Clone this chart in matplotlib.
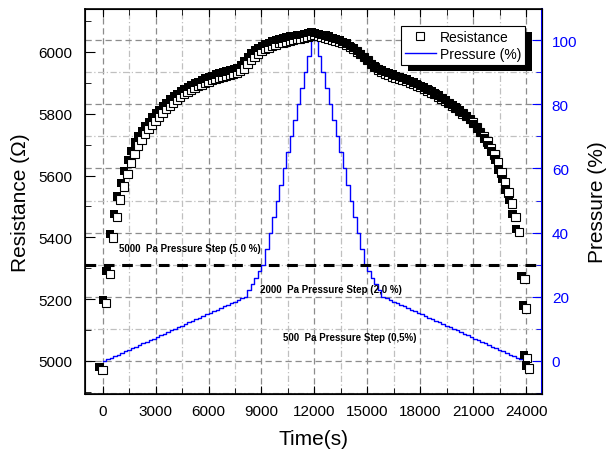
import numpy as np
import matplotlib
matplotlib.use("Agg")
import matplotlib.pyplot as plt
from matplotlib import patheffects
from matplotlib.lines import Line2D
from matplotlib.ticker import MultipleLocator

plt.rcParams['font.family'] = ['Liberation Sans', 'DejaVu Sans']

#-----------DATOS-------------
# resistencia medida cada 200 s (ohm)
res_time = list(range(0, 23601, 200)) + [23900, 24000, 24050, 24150]
resistance = [
    4970, 5188, 5282, 5400, 5465, 5522, 5565, 5605, 5640, 5670,
    5697, 5716, 5735, 5751, 5764, 5778, 5791, 5803, 5815, 5826,
    5836, 5846, 5855, 5863, 5870, 5877, 5883, 5889, 5894, 5899,
    5904, 5909, 5913, 5917, 5921, 5924, 5927, 5930, 5934, 5939,
    5947, 5960, 5973, 5985, 5995, 6003, 6010, 6015, 6020, 6024,
    6028, 6031, 6034, 6037, 6040, 6042, 6044, 6046, 6048, 6051,
    6055, 6052, 6049, 6046, 6043, 6040, 6036, 6032, 6028, 6023,
    6017, 6010, 6002, 5993, 5983, 5973, 5962, 5952, 5943, 5936,
    5930, 5925, 5921, 5917, 5913, 5909, 5905, 5901, 5896, 5891,
    5886, 5881, 5875, 5869, 5863, 5856, 5849, 5842, 5834, 5826,
    5818, 5810, 5801, 5792, 5782, 5772, 5758, 5742, 5727, 5710,
    5690, 5668, 5642, 5610, 5578, 5545, 5510, 5465, 5418,
    5265, 5170, 5010, 4975,
]

# protocolo de presion: escalones de 200 s
step_time = 200
ramp_bounds = [0, 20, 30, 100]     # % donde cambia el tamano del escalon
ramp_steps = [0.5, 2.0, 5.0]       # % por escalon
peak_hold = 2                      # escalones a 100 %

step_labels = ["5000  Pa Pressure Step (5.0 %)",
               "2000  Pa Pressure Step (2,0 %)",
               "500  Pa Pressure Step (0,5%)"]
label_t = [930, 8930, 10230]
label_p = [35.2, 22.4, 7.6]

ramp = np.concatenate([np.arange(a, b, s) for a, b, s in
                       zip(ramp_bounds[:-1], ramp_bounds[1:], ramp_steps)])
p_levels = np.concatenate([ramp, [100] * peak_hold, ramp[::-1], [0]])
p_time = np.arange(len(p_levels)) * step_time

#-----------GRAFICA-------------
fig = plt.figure(figsize=(6.07, 4.60), dpi=100)
ax = fig.add_axes([0.140, 0.1413, 0.753, 0.8369])
ax2 = ax.twinx()
ax.set_zorder(2)
ax2.set_zorder(1)
ax.patch.set_visible(False)

blue = "#0000ff"

# presion (eje derecho)
ax2.step(p_time, p_levels, where='post', color=blue, lw=1.0, zorder=3)
ax2.axhline(30, color='k', lw=2.2, ls=(0, (3.5, 2.5)), zorder=4)
for txt, tx, py in zip(step_labels, label_t, label_p):
    ax2.text(tx, py, txt, fontsize=7, fontweight='bold', va='center', ha='left', zorder=5)

# rejilla
ax2.yaxis.set_major_locator(MultipleLocator(20))
ax2.yaxis.set_minor_locator(MultipleLocator(10))
ax2.grid(True, which='major', axis='y', color='#8c8c8c', ls=(0, (5, 3)), lw=0.9)
ax2.grid(True, which='minor', axis='y', color='#c0c0c0', ls=(0, (5, 2, 1, 2)), lw=0.9)
ax.xaxis.set_major_locator(MultipleLocator(3000))
ax.xaxis.set_minor_locator(MultipleLocator(1500))
for t in np.arange(0, 24001, 3000):
    ax2.axvline(t, color='#8c8c8c', ls=(0, (5, 3)), lw=0.9, zorder=0.5)
for t in np.arange(1500, 24001, 3000):
    ax2.axvline(t, color='#c0c0c0', ls=(0, (5, 2, 1, 2)), lw=0.9, zorder=0.5)

# resistencia (eje izquierdo)
ax.plot(res_time, resistance, ls='none', marker='s', ms=6, mfc='white', mec='k', mew=0.8,
        path_effects=[patheffects.withSimplePatchShadow(offset=(-2.2, 2.2), shadow_rgbFace='k', alpha=1.0)])

ax.set_xlim(-1000, 24900)
ax.set_ylim(4893, 6139)
ax2.set_ylim(-10.3, 109.7)
ax.yaxis.set_major_locator(MultipleLocator(200))
ax.yaxis.set_minor_locator(MultipleLocator(100))

ax.tick_params(axis='x', which='both', direction='in', top=True, labelsize=11, pad=7)
ax.tick_params(axis='x', which='major', length=6)
ax.tick_params(axis='x', which='minor', length=4)
ax.tick_params(axis='y', which='both', direction='in', right=False, labelsize=11, pad=9)
ax.tick_params(axis='y', which='major', length=7)
ax.tick_params(axis='y', which='minor', length=4)
ax2.tick_params(axis='y', which='both', direction='in', colors=blue, labelsize=11, pad=7)
ax2.tick_params(axis='y', which='major', length=7)
ax2.tick_params(axis='y', which='minor', length=4)
ax2.spines['right'].set_color(blue)
ax2.spines['right'].set_linewidth(1.5)
for s in ['left', 'top', 'bottom']:
    ax.spines[s].set_linewidth(1.2)

ax.set_xlabel("Time(s)", fontsize=15, labelpad=8)
ax.set_ylabel("Resistance (Ω)", fontsize=15, labelpad=6)
ax2.set_ylabel("Pressure (%)", fontsize=15, labelpad=8)

handles = [Line2D([], [], ls='none', marker='s', ms=6, mfc='white', mec='k', mew=0.8),
           Line2D([], [], color=blue, lw=1.0)]
leg = ax.legend(handles, ["Resistance", "Pressure (%)"], loc='upper right', fontsize=10,
                fancybox=False, edgecolor='k', framealpha=1, borderaxespad=1.2,
                handlelength=2.2, borderpad=0.3, labelspacing=0.2, handletextpad=0.3)
leg.get_frame().set_linewidth(0.8)
leg.get_frame().set_path_effects([patheffects.withSimplePatchShadow(offset=(5, -4.5), shadow_rgbFace='k', alpha=1.0)])

plt.savefig("out.png", dpi=100)
